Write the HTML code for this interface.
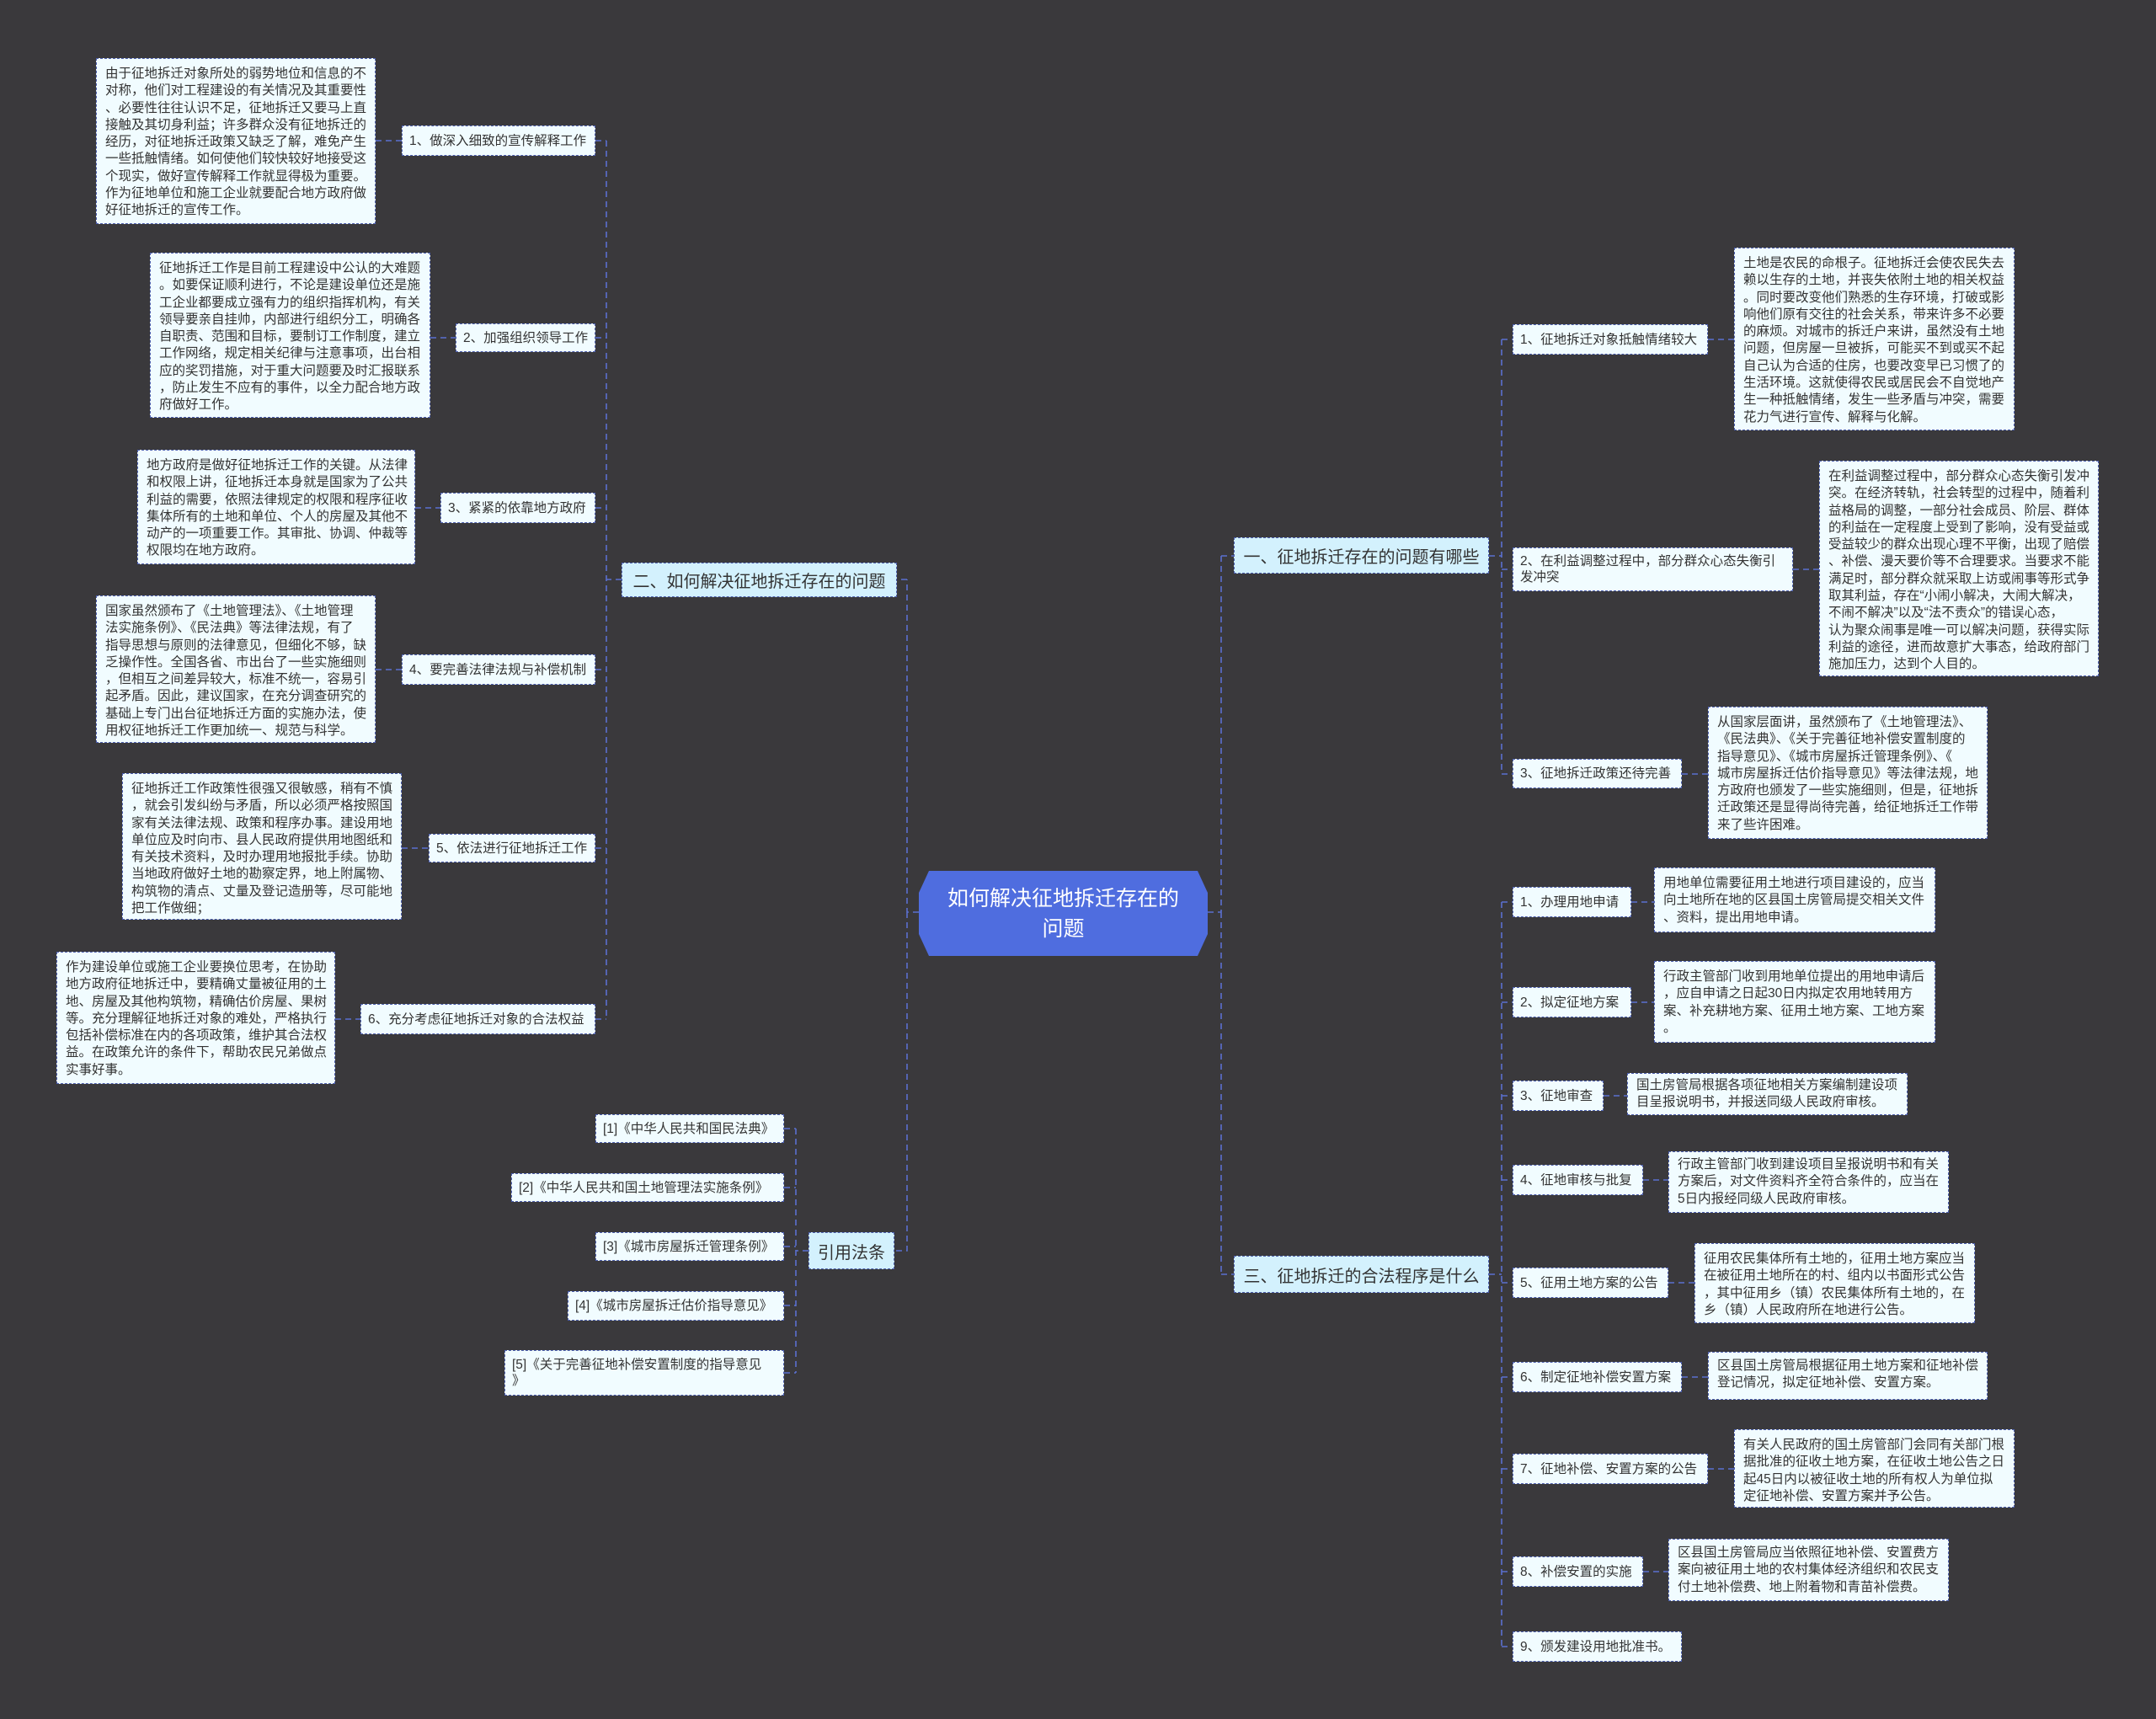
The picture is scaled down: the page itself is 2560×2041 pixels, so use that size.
<!DOCTYPE html>
<html><head><meta charset="utf-8"><style>
body{margin:0;width:2560px;height:2041px;background:#3a393c;position:relative;overflow:hidden;font-family:"Liberation Sans","Noto Sans CJK SC",sans-serif;}
.b{position:absolute;box-sizing:border-box;background:#f1fcff;border:1.5px dashed #4c5fae;color:#333;font-size:15.5px;line-height:20.3px;padding:8px 10px;white-space:nowrap;overflow:hidden;}
.l{position:absolute;box-sizing:border-box;background:#f1fcff;border:1.5px dashed #4c5fae;color:#333;font-size:15.5px;line-height:19px;padding:0 8px;white-space:nowrap;display:flex;align-items:center;}
.h{position:absolute;box-sizing:border-box;background:#d3f1fd;border:1.5px dashed #4c5fae;color:#333;font-size:20px;padding:0 8px;white-space:nowrap;display:flex;align-items:center;justify-content:center;}
svg{position:absolute;left:0;top:0}
</style></head><body>
<svg width="2560" height="2041"><g stroke="#5a70d0" stroke-width="1.6" stroke-dasharray="7,5" fill="none">
<path d="M1091 1083H1077V688M1077 1083V1485H1062M1077 688H1065"/>
<path d="M720 167V1210M707 167H720M707 401H720M707 603H720M707 795H720M707 1007H720M707 1210H720M738 688H720"/>
<path d="M446 167H477M511 401H541M493 603H523M446 795H477M477 1007H509M398 1210H428"/>
<path d="M945 1340V1630M931 1340H945M931 1410H945M931 1480H945M931 1550H945M931 1630H945M960 1485H945"/>
<path d="M1434 1083H1450V660M1450 1083V1513M1450 660H1465M1450 1513H1465"/>
<path d="M1768 660H1783M1783 403V919M1783 403H1796M1783 676H1796M1783 919H1796M2028 403H2059M2129 676H2160M1997 919H2028"/>
<path d="M1768 1513H1783M1783 1071V1955M1783 1071H1796M1783 1190H1796M1783 1301H1796M1783 1401H1796M1783 1523H1796M1783 1635H1796M1783 1744H1796M1783 1866H1796M1783 1955H1796"/>
<path d="M1937 1071H1964M1937 1190H1964M1904 1301H1932M1951 1401H1981M1981 1523H2012M1997 1635H2028M2028 1744H2059M1951 1866H1981"/>
</g>
<polygon points="1103,1034 1422,1034 1434,1060 1434,1109 1422,1135 1103,1135 1091,1109 1091,1060" fill="#4f6ddf"/>
</svg>
<div style="position:absolute;left:1091px;top:1034px;width:343px;height:101px;display:flex;align-items:center;justify-content:center;text-align:center;color:#fff;font-size:25px;line-height:36px;">如何解决征地拆迁存在的<br>问题</div>

<div class="b" style="left:114px;top:69px;width:332px;height:197px">由于征地拆迁对象所处的弱势地位和信息的不<br>对称，他们对工程建设的有关情况及其重要性<br>、必要性往往认识不足，征地拆迁又要马上直<br>接触及其切身利益；许多群众没有征地拆迁的<br>经历，对征地拆迁政策又缺乏了解，难免产生<br>一些抵触情绪。如何使他们较快较好地接受这<br>个现实，做好宣传解释工作就显得极为重要。<br>作为征地单位和施工企业就要配合地方政府做<br>好征地拆迁的宣传工作。</div>
<div class="l" style="left:477px;top:149px;width:230px;height:36px">1、做深入细致的宣传解释工作</div>
<div class="b" style="left:178px;top:300px;width:333px;height:196px">征地拆迁工作是目前工程建设中公认的大难题<br>。如要保证顺利进行，不论是建设单位还是施<br>工企业都要成立强有力的组织指挥机构，有关<br>领导要亲自挂帅，内部进行组织分工，明确各<br>自职责、范围和目标，要制订工作制度，建立<br>工作网络，规定相关纪律与注意事项，出台相<br>应的奖罚措施，对于重大问题要及时汇报联系<br>，防止发生不应有的事件，以全力配合地方政<br>府做好工作。</div>
<div class="l" style="left:541px;top:384px;width:166px;height:34px">2、加强组织领导工作</div>
<div class="b" style="left:163px;top:534px;width:330px;height:136px">地方政府是做好征地拆迁工作的关键。从法律<br>和权限上讲，征地拆迁本身就是国家为了公共<br>利益的需要，依照法律规定的权限和程序征收<br>集体所有的土地和单位、个人的房屋及其他不<br>动产的一项重要工作。其审批、协调、仲裁等<br>权限均在地方政府。</div>
<div class="l" style="left:523px;top:585px;width:184px;height:36px">3、紧紧的依靠地方政府</div>
<div class="b" style="left:114px;top:707px;width:332px;height:175px">国家虽然颁布了《土地管理法》、《土地管理<br>法实施条例》、《民法典》等法律法规，有了<br>指导思想与原则的法律意见，但细化不够，缺<br>乏操作性。全国各省、市出台了一些实施细则<br>，但相互之间差异较大，标准不统一，容易引<br>起矛盾。因此，建议国家，在充分调查研究的<br>基础上专门出台征地拆迁方面的实施办法，使<br>用权征地拆迁工作更加统一、规范与科学。</div>
<div class="l" style="left:477px;top:777px;width:230px;height:36px">4、要完善法律法规与补偿机制</div>
<div class="b" style="left:145px;top:918px;width:332px;height:174px">征地拆迁工作政策性很强又很敏感，稍有不慎<br>，就会引发纠纷与矛盾，所以必须严格按照国<br>家有关法律法规、政策和程序办事。建设用地<br>单位应及时向市、县人民政府提供用地图纸和<br>有关技术资料，及时办理用地报批手续。协助<br>当地政府做好土地的勘察定界，地上附属物、<br>构筑物的清点、丈量及登记造册等，尽可能地<br>把工作做细；</div>
<div class="l" style="left:509px;top:990px;width:198px;height:34px">5、依法进行征地拆迁工作</div>
<div class="b" style="left:67px;top:1130px;width:331px;height:157px">作为建设单位或施工企业要换位思考，在协助<br>地方政府征地拆迁中，要精确丈量被征用的土<br>地、房屋及其他构筑物，精确估价房屋、果树<br>等。充分理解征地拆迁对象的难处，严格执行<br>包括补偿标准在内的各项政策，维护其合法权<br>益。在政策允许的条件下，帮助农民兄弟做点<br>实事好事。</div>
<div class="l" style="left:428px;top:1192px;width:279px;height:36px">6、充分考虑征地拆迁对象的合法权益</div>
<div class="h" style="left:738px;top:668px;width:327px;height:41px">二、如何解决征地拆迁存在的问题</div>

<div class="l" style="left:707px;top:1323px;width:224px;height:34px">[1]《中华人民共和国民法典》</div>
<div class="l" style="left:607px;top:1393px;width:324px;height:34px">[2]《中华人民共和国土地管理法实施条例》</div>
<div class="l" style="left:707px;top:1463px;width:224px;height:34px">[3]《城市房屋拆迁管理条例》</div>
<div class="l" style="left:674px;top:1533px;width:257px;height:35px">[4]《城市房屋拆迁估价指导意见》</div>
<div class="l" style="left:599px;top:1603px;width:332px;height:54px;align-items:center">[5]《关于完善征地补偿安置制度的指导意见<br>》</div>
<div class="h" style="left:960px;top:1463px;width:102px;height:44px">引用法条</div>

<div class="h" style="left:1465px;top:638px;width:303px;height:43px">一、征地拆迁存在的问题有哪些</div>
<div class="l" style="left:1796px;top:385px;width:232px;height:36px">1、征地拆迁对象抵触情绪较大</div>
<div class="b" style="left:2059px;top:294px;width:333px;height:217px">土地是农民的命根子。征地拆迁会使农民失去<br>赖以生存的土地，并丧失依附土地的相关权益<br>。同时要改变他们熟悉的生存环境，打破或影<br>响他们原有交往的社会关系，带来许多不必要<br>的麻烦。对城市的拆迁户来讲，虽然没有土地<br>问题，但房屋一旦被拆，可能买不到或买不起<br>自己认为合适的住房，也要改变早已习惯了的<br>生活环境。这就使得农民或居民会不自觉地产<br>生一种抵触情绪，发生一些矛盾与冲突，需要<br>花力气进行宣传、解释与化解。</div>
<div class="l" style="left:1796px;top:650px;width:333px;height:52px">2、在利益调整过程中，部分群众心态失衡引<br>发冲突</div>
<div class="b" style="left:2160px;top:547px;width:332px;height:256px">在利益调整过程中，部分群众心态失衡引发冲<br>突。在经济转轨，社会转型的过程中，随着利<br>益格局的调整，一部分社会成员、阶层、群体<br>的利益在一定程度上受到了影响，没有受益或<br>受益较少的群众出现心理不平衡，出现了赔偿<br>、补偿、漫天要价等不合理要求。当要求不能<br>满足时，部分群众就采取上访或闹事等形式争<br>取其利益，存在“小闹小解决，大闹大解决，<br>不闹不解决”以及“法不责众”的错误心态，<br>认为聚众闹事是唯一可以解决问题，获得实际<br>利益的途径，进而故意扩大事态，给政府部门<br>施加压力，达到个人目的。</div>
<div class="l" style="left:1796px;top:901px;width:201px;height:35px">3、征地拆迁政策还待完善</div>
<div class="b" style="left:2028px;top:839px;width:332px;height:157px">从国家层面讲，虽然颁布了《土地管理法》、<br>《民法典》、《关于完善征地补偿安置制度的<br>指导意见》、《城市房屋拆迁管理条例》、《<br>城市房屋拆迁估价指导意见》等法律法规，地<br>方政府也颁发了一些实施细则，但是，征地拆<br>迁政策还是显得尚待完善，给征地拆迁工作带<br>来了些许困难。</div>

<div class="h" style="left:1465px;top:1491px;width:303px;height:44px">三、征地拆迁的合法程序是什么</div>
<div class="l" style="left:1796px;top:1053px;width:141px;height:36px">1、办理用地申请</div>
<div class="b" style="left:1964px;top:1030px;width:334px;height:77px">用地单位需要征用土地进行项目建设的，应当<br>向土地所在地的区县国土房管局提交相关文件<br>、资料，提出用地申请。</div>
<div class="l" style="left:1796px;top:1172px;width:141px;height:36px">2、拟定征地方案</div>
<div class="b" style="left:1964px;top:1141px;width:334px;height:97px">行政主管部门收到用地单位提出的用地申请后<br>，应自申请之日起30日内拟定农用地转用方<br>案、补充耕地方案、征用土地方案、工地方案<br>。</div>
<div class="l" style="left:1796px;top:1283px;width:108px;height:36px">3、征地审查</div>
<div class="b" style="left:1932px;top:1274px;width:333px;height:50px;padding-top:4px">国土房管局根据各项征地相关方案编制建设项<br>目呈报说明书，并报送同级人民政府审核。</div>
<div class="l" style="left:1796px;top:1383px;width:155px;height:36px">4、征地审核与批复</div>
<div class="b" style="left:1981px;top:1367px;width:333px;height:73px;padding-top:5px">行政主管部门收到建设项目呈报说明书和有关<br>方案后，对文件资料齐全符合条件的，应当在<br>5日内报经同级人民政府审核。</div>
<div class="l" style="left:1796px;top:1505px;width:185px;height:36px">5、征用土地方案的公告</div>
<div class="b" style="left:2012px;top:1476px;width:333px;height:95px">征用农民集体所有土地的，征用土地方案应当<br>在被征用土地所在的村、组内以书面形式公告<br>，其中征用乡（镇）农民集体所有土地的，在<br>乡（镇）人民政府所在地进行公告。</div>
<div class="l" style="left:1796px;top:1617px;width:201px;height:36px">6、制定征地补偿安置方案</div>
<div class="b" style="left:2028px;top:1605px;width:332px;height:57px;padding-top:6px">区县国土房管局根据征用土地方案和征地补偿<br>登记情况，拟定征地补偿、安置方案。</div>
<div class="l" style="left:1796px;top:1726px;width:232px;height:36px">7、征地补偿、安置方案的公告</div>
<div class="b" style="left:2059px;top:1697px;width:333px;height:93px">有关人民政府的国土房管部门会同有关部门根<br>据批准的征收土地方案，在征收土地公告之日<br>起45日内以被征收土地的所有权人为单位拟<br>定征地补偿、安置方案并予公告。</div>
<div class="l" style="left:1796px;top:1848px;width:155px;height:36px">8、补偿安置的实施</div>
<div class="b" style="left:1981px;top:1827px;width:333px;height:74px;padding-top:6px">区县国土房管局应当依照征地补偿、安置费方<br>案向被征用土地的农村集体经济组织和农民支<br>付土地补偿费、地上附着物和青苗补偿费。</div>
<div class="l" style="left:1796px;top:1937px;width:201px;height:36px">9、颁发建设用地批准书。</div>
</body></html>
